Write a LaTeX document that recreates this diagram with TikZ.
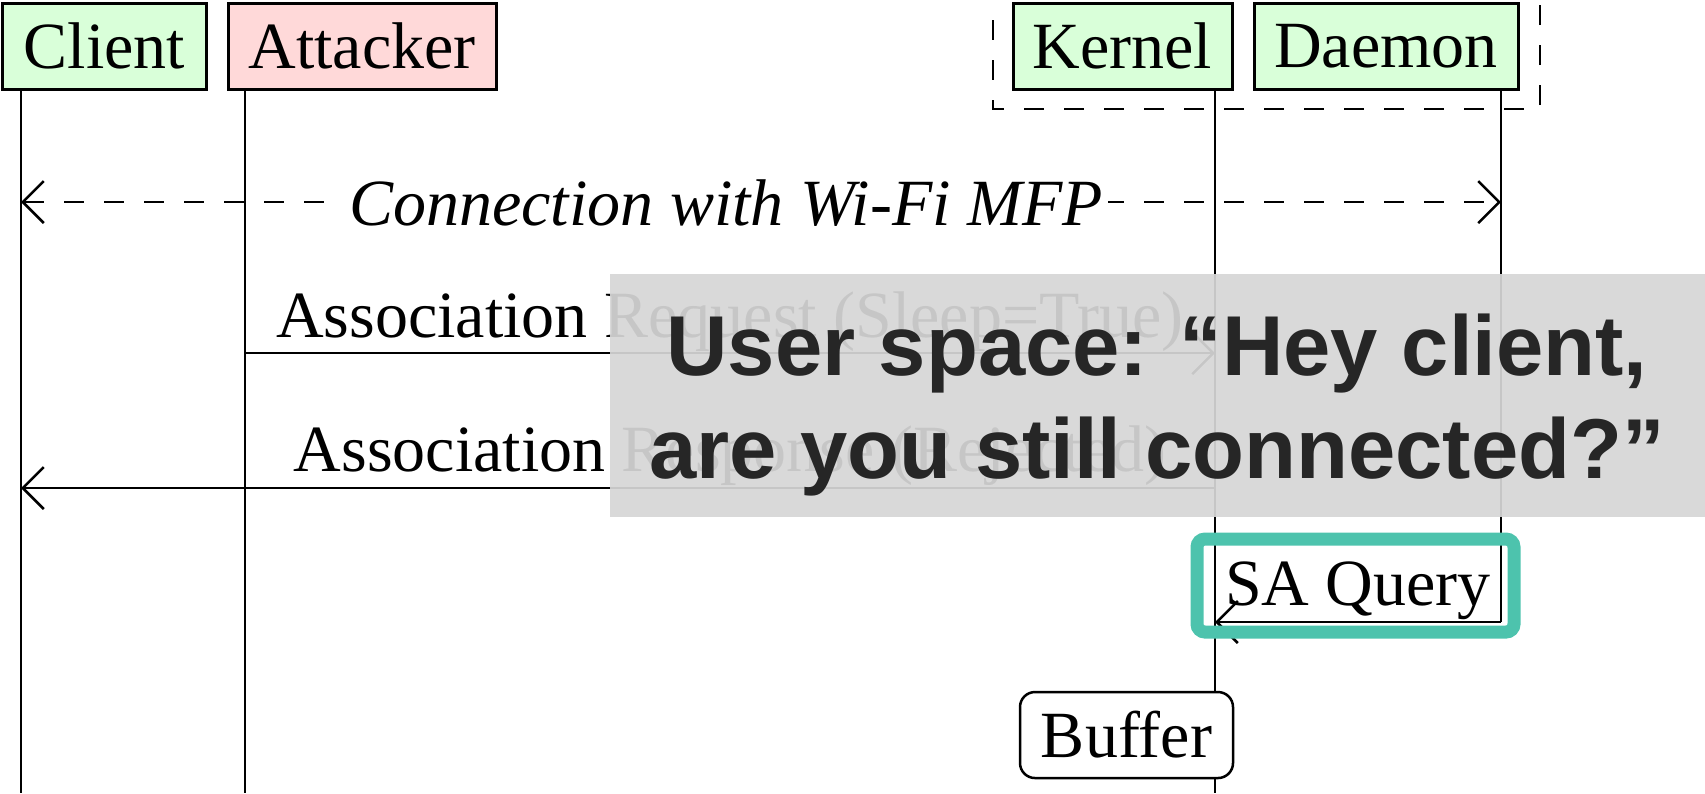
\documentclass[tikz,border=0pt]{standalone}
\usepackage{fontspec}
\setmainfont{Liberation Serif}
\newfontfamily\calloutfont{Liberation Sans}
\usetikzlibrary{arrows.meta}

\definecolor{actorgreen}{RGB}{217,255,217}
\definecolor{actorred}{RGB}{255,217,217}
\definecolor{calloutgray}{RGB}{214,214,214}
\definecolor{callouttext}{RGB}{38,38,38}
\definecolor{hiteal}{RGB}{77,195,173}

\newcommand{\diagsize}{\fontsize{13.2}{15.8}\selectfont}
\newcommand{\calloutsize}{\fontsize{17}{20.6}\selectfont}

\tikzset{
  barb/.tip={Straight Barb[length=4.2pt,width=8.4pt]},
  actor/.style={draw=black, line width=0.6pt, inner sep=0pt,
    minimum height=17.2pt, font=\diagsize},
  lifeline/.style={line width=0.5pt},
  msg/.style={line width=0.5pt, -barb},
  lbl/.style={anchor=base, inner sep=0pt, font=\diagsize},
  longdash/.style={dash pattern=on 4pt off 4pt},
}

\begin{document}
\begin{tikzpicture}[x=0.2pt,y=-0.2pt]
\useasboundingbox (0,0) rectangle (1705,793);

% participants
\node[actor, fill=actorgreen, minimum width=40.6pt] (client)   at (104.5,46)  {Client};
\node[actor, fill=actorred,   minimum width=53.6pt] (attacker) at (362,46)    {Attacker};
\node[actor, fill=actorgreen, minimum width=43.8pt] (kernel)   at (1122.5,46) {Kernel};
\node[actor, fill=actorgreen, minimum width=52.8pt] (daemon)   at (1386,46)   {Daemon};

% group around kernel and daemon
\draw[line width=0.5pt, longdash] (993,-20) rectangle (1540,109);

% lifeline anchors
\coordinate (cTop) at (21,89);    \coordinate (cBot) at (21,793);
\coordinate (aTop) at (245,89);   \coordinate (aBot) at (245,793);
\coordinate (kTop) at (1215,89);  \coordinate (kBot) at (1215,793);
\coordinate (dTop) at (1501,89);  \coordinate (dBot) at (1501,622);

% buffer on the kernel lifeline
\node[draw, line width=0.5pt, rounded corners=3pt, fill=white, inner sep=0pt,
      minimum width=42.6pt, minimum height=17.2pt, font=\diagsize] (buffer) at (1126.5,735) {Buffer};

\draw[lifeline] (cTop) -- (cBot);
\draw[lifeline] (aTop) -- (aBot);
\draw[lifeline] (kTop) -- (kTop |- buffer.north);
\draw[lifeline] (kTop |- buffer.south) -- (kBot);
\draw[lifeline] (dTop) -- (dBot);

% established connection
\coordinate (cConn) at (21,202);
\coordinate (dConn) at (1501,202);
\draw[line width=0.5pt, longdash, barb-barb] (cConn) -- (dConn);
\node[lbl, fill=white, inner xsep=1pt] (conn) at (726,225) {\itshape Connection with Wi-Fi MFP};

% association request
\coordinate (aReq) at (245,353);
\coordinate (kReq) at (1215,353);
\draw[msg] (aReq) -- (kReq);
\node[lbl] (req) at (730,337) {Association Request (Sleep=True)};

% association response
\coordinate (kRes) at (1215,488);
\coordinate (cRes) at (21,488);
\draw[msg] (kRes) -- (cRes);
\node[lbl] (res) at (730,471) {Association Response (Rejected)};

% SA query
\coordinate (dSa) at (1501,622);
\coordinate (kSa) at (1215,622);
\draw[msg] (dSa) -- (kSa);
\node[lbl] (saq) at (1358,605) {SA Query};

% highlight
\draw[hiteal, line width=2.6pt, rounded corners=1.6pt] (1197,539) rectangle (1514,632);

% callout
\fill[calloutgray, fill opacity=0.93] (610,274) rectangle (1705,517);
\node[anchor=base, inner sep=0pt, text=callouttext] (call1) at (1157,375)
  {\calloutfont\bfseries\calloutsize User space: “Hey client,};
\node[anchor=base, inner sep=0pt, text=callouttext] (call2) at (1157,478)
  {\calloutfont\bfseries\calloutsize are you still connected?”};
\end{tikzpicture}
\end{document}
